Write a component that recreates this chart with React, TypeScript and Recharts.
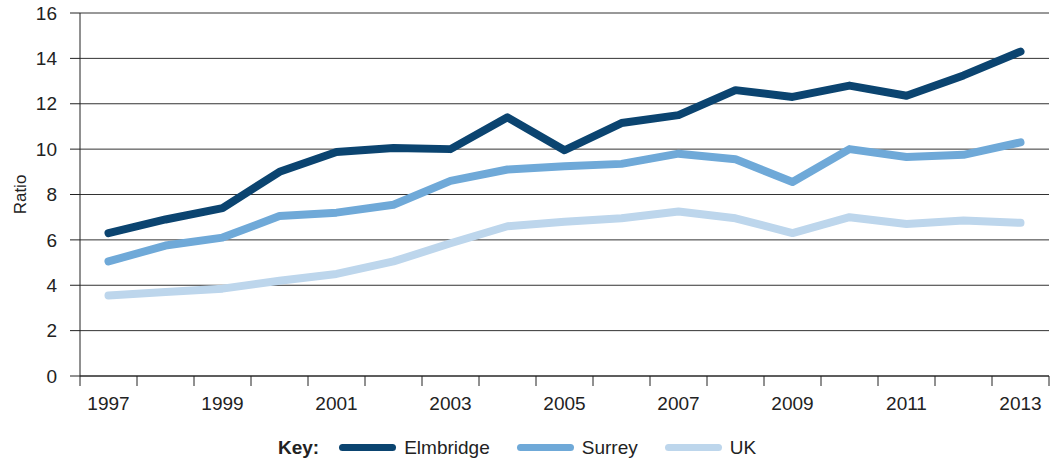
import React from 'react';
import { LineChart, Line, XAxis, YAxis, CartesianGrid, Legend } from 'recharts';

const years = [1997, 1998, 1999, 2000, 2001, 2002, 2003, 2004, 2005, 2006, 2007, 2008, 2009, 2010, 2011, 2012, 2013];
const elmbridge = [6.3, 6.9, 7.4, 9.0, 9.87, 10.05, 10.0, 11.4, 9.95, 11.15, 11.5, 12.6, 12.3, 12.8, 12.35, 13.25, 14.3];
const surrey = [5.05, 5.75, 6.1, 7.05, 7.2, 7.55, 8.6, 9.1, 9.25, 9.35, 9.8, 9.55, 8.55, 10.0, 9.65, 9.75, 10.3];
const uk = [3.55, 3.7, 3.85, 4.2, 4.5, 5.05, 5.85, 6.6, 6.8, 6.95, 7.25, 6.95, 6.3, 7.0, 6.7, 6.85, 6.75];

const yTicks = [0, 2, 4, 6, 8, 10, 12, 14, 16];
// odd years get labels, half years get the tick marks between categories
const labelYears = [1997, 1999, 2001, 2003, 2005, 2007, 2009, 2011, 2013];
const boundaries = [...years.map((y) => y - 0.5), 2013.5];

const series = [
  { key: 'uk', name: 'UK', color: '#bdd6ec' },
  { key: 'surrey', name: 'Surrey', color: '#6fa9d8' },
  { key: 'elmbridge', name: 'Elmbridge', color: '#0b4470' },
];
const legendOrder = ['elmbridge', 'surrey', 'uk'];

const data = years.map((year, i) => ({
  year,
  elmbridge: elmbridge[i],
  surrey: surrey[i],
  uk: uk[i],
}));

const FONT = '"Liberation Sans", Arial, Helvetica, sans-serif';

const XTick = (props: any) => {
  const { x, y, payload } = props;
  const v = payload.value;
  if (Number.isInteger(v)) {
    return (
      <text x={x} y={y} dy="0.71em" textAnchor="middle" fill="#222" fontSize={19} fontFamily={FONT}>
        {v}
      </text>
    );
  }
  return <line x1={x} x2={x} y1={y - 21} y2={y - 11} stroke="#222" strokeWidth={1} />;
};

const KeyLegend = () => (
  <div
    style={{
      display: 'flex',
      alignItems: 'center',
      paddingLeft: 278,
      marginTop: 4,
      height: 35,
      fontFamily: FONT,
      fontSize: 19,
      color: '#222',
    }}
  >
    <span style={{ fontWeight: 'bold', marginRight: 20 }}>Key:</span>
    {legendOrder.map((k) => {
      const s = series.find((d) => d.key === k)!;
      return (
        <span key={k} style={{ display: 'flex', alignItems: 'center', marginRight: 27 }}>
          <span
            style={{
              display: 'inline-block',
              width: 57,
              height: 7,
              borderRadius: 4,
              background: s.color,
              marginRight: 8,
            }}
          />
          {s.name}
        </span>
      );
    })}
  </div>
);

const App: React.FC = () => {
  return (
    <div style={{ position: 'absolute', left: 0, top: 0, width: 1061, height: 461, background: '#fff' }}>
      <LineChart width={1061} height={461} data={data} margin={{ top: 13, right: 12, bottom: 0, left: 0 }}>
        <CartesianGrid vertical={false} stroke="#333" strokeWidth={1} />
        <XAxis
          dataKey="year"
          type="number"
          domain={[1996.5, 2013.5]}
          ticks={[...boundaries, ...labelYears].sort((a, b) => a - b)}
          interval={0}
          tick={<XTick />}
          tickLine={false}
          tickSize={10}
          tickMargin={11}
          axisLine={{ stroke: '#222' }}
          height={50}
        />
        <YAxis
          domain={[0, 16]}
          ticks={yTicks}
          interval={0}
          width={80}
          tickSize={10}
          tickMargin={13}
          tickLine={{ stroke: '#222' }}
          axisLine={{ stroke: '#222' }}
          tick={{ fill: '#222', fontSize: 19, fontFamily: FONT }}
          label={{
            value: 'Ratio',
            angle: -90,
            position: 'insideLeft',
            offset: 20,
            style: { fill: '#222', fontSize: 17, fontFamily: FONT, textAnchor: 'middle' },
          }}
        />
        <Legend verticalAlign="bottom" height={35} content={() => <KeyLegend />} />
        {series.map((s) => (
          <Line
            key={s.key}
            dataKey={s.key}
            name={s.name}
            stroke={s.color}
            strokeWidth={8}
            strokeLinecap="round"
            strokeLinejoin="round"
            dot={false}
            type="linear"
            isAnimationActive={false}
          />
        ))}
      </LineChart>
    </div>
  );
};

export default App;
